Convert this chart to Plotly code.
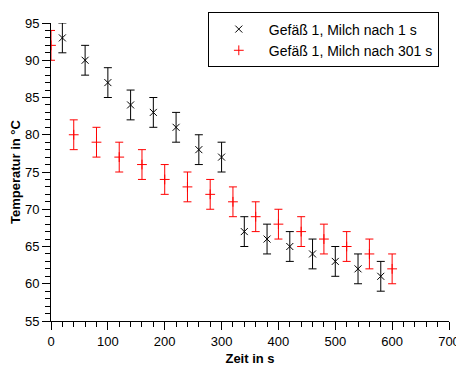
import plotly.graph_objects as go

# Data
t_black = [20, 60, 100, 140, 180, 220, 260, 300, 340, 380, 420, 460, 500, 540, 580]
T_black = [93, 90, 87, 84, 83, 81, 78, 77, 67, 66, 65, 64, 63, 62, 61]
err_black = [2] * len(t_black)

t_red = [0, 40, 80, 120, 160, 200, 240, 280, 320, 360, 400, 440, 480, 520, 560, 600]
T_red = [92, 80, 79, 77, 76, 74, 73, 72, 71, 69, 68, 67, 66, 65, 64, 62]
err_red = [2] * len(t_red)

name_black = "Gefäß 1, Milch nach 1 s"
name_red = "Gefäß 1, Milch nach 301 s"

FONT = "Liberation Sans, Arial, Helvetica, sans-serif"

fig = go.Figure()
fig.add_trace(go.Scatter(
    x=t_black, y=T_black, mode="markers", name=name_black,
    marker=dict(symbol="x-thin", size=7, color="black",
                line=dict(width=1, color="black")),
    error_y=dict(type="data", array=err_black, visible=True,
                 color="black", thickness=1, width=4),
))
fig.add_trace(go.Scatter(
    x=t_red, y=T_red, mode="markers", name=name_red,
    marker=dict(symbol="cross-thin", size=7, color="red",
                line=dict(width=1, color="red")),
    error_y=dict(type="data", array=err_red, visible=True,
                 color="red", thickness=1, width=4),
))

axis_common = dict(
    showgrid=False, zeroline=False, showline=True, linecolor="black",
    linewidth=1, ticks="outside", ticklen=8, tickcolor="black",
    tickwidth=1, mirror=False, automargin=False,
    tickfont=dict(family=FONT, size=13, color="black"),
)

fig.update_xaxes(
    range=[0, 700], dtick=100, tick0=0,
    minor=dict(dtick=20, ticks="outside", ticklen=5, tickcolor="black"),
    title=dict(text="<b>Zeit in s</b>", font=dict(family=FONT, size=13, color="black"),
               standoff=6),
    **axis_common,
)
fig.update_yaxes(
    range=[55, 95], dtick=5, tick0=55,
    minor=dict(dtick=1, ticks="outside", ticklen=5, tickcolor="black"),
    title=dict(text="<b>Temperatur in °C</b>", font=dict(family=FONT, size=13, color="black"),
               standoff=4),
    **axis_common,
)

fig.update_layout(
    width=456, height=375,
    margin=dict(l=43, r=15, t=15, b=62, autoexpand=False),
    paper_bgcolor="white", plot_bgcolor="white",
    font=dict(family=FONT, size=13, color="black"),
    showlegend=True,
    legend=dict(
        x=0.394, y=0.943, xanchor="left", yanchor="middle",
        bordercolor="black", borderwidth=1, bgcolor="white",
        font=dict(family=FONT, size=14, color="black"),
        itemwidth=50, tracegroupgap=0,
    ),
)

fig.write_html("out.html")
